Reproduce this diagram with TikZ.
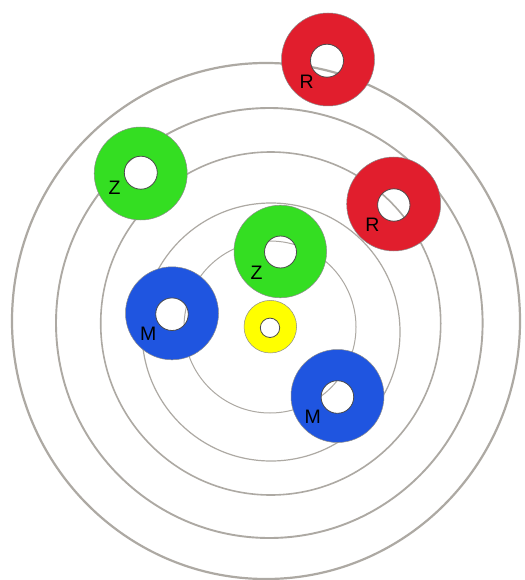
\documentclass[tikz,border=0pt]{standalone}
\usepackage{fontspec}
\setmainfont{Liberation Sans}
\definecolor{ringgray}{HTML}{ADA9A3}
\definecolor{dred}{HTML}{E11E2D}
\definecolor{dgreen}{HTML}{34DE22}
\definecolor{dblue}{HTML}{1F55E0}
\definecolor{dyellow}{HTML}{FFFF00}
\tikzset{
  orbit/.style={draw=ringgray},
  lbl/.style={font=\fontsize{19.5}{19.5}\selectfont, inner sep=0pt, text=black},
}
% donut: #1 colour, #2 outer centre, #3 outer r, #4 hole centre, #5 hole r
\newcommand{\mydonut}[5]{%
  \fill[#1, even odd rule] #2 circle (#3) #4 circle (#5);
  \draw[draw=black!45, line width=0.5pt] #2 circle (#3);
  \draw[draw=black!70, line width=0.8pt] #4 circle (#5);
}
\begin{document}
\begin{tikzpicture}[x=1pt,y=-1pt]
\useasboundingbox (0,0) rectangle (524,580);
\fill[white] (0,0) rectangle (524,580);
% orbits
\draw[orbit, line width=2.2pt] (266,321) ellipse [x radius=254, y radius=258];
\draw[orbit, line width=1.9pt] (269.3,323) ellipse [x radius=213.3, y radius=215];
\draw[orbit, line width=1.6pt] (270.7,323.5) ellipse [x radius=170, y radius=171.5];
\draw[orbit, line width=1.2pt] (271,332) circle (129);
\draw[orbit, line width=1pt] (270,327) circle (86);
% donuts
\mydonut{dred}{(328,59.5)}{46.5}{(327,60.7)}{16.5}
\mydonut{dgreen}{(140.7,173.5)}{46.5}{(140.8,172.7)}{16.5}
\mydonut{dred}{(393.7,204)}{47}{(393.8,205)}{16.2}
\mydonut{dgreen}{(280.3,251.5)}{46.3}{(280.5,252)}{16}
\mydonut{dblue}{(172,313.3)}{46.5}{(172,314.2)}{16.3}
\mydonut{dyellow}{(270.3,326.7)}{26.3}{(270,327.8)}{9.7}
\mydonut{dblue}{(337.5,396)}{46.5}{(337.4,397)}{16.3}
% labels
\node[lbl] (r1) at (306.7,81.7) {R};
\node[lbl] (z1) at (114.5,188) {Z};
\node[lbl] (r2) at (372.3,225) {R};
\node[lbl] (z2) at (256.7,272.8) {Z};
\node[lbl] (m1) at (148.3,333.3) {M};
\node[lbl] (m2) at (312.7,417) {M};
\end{tikzpicture}
\end{document}
